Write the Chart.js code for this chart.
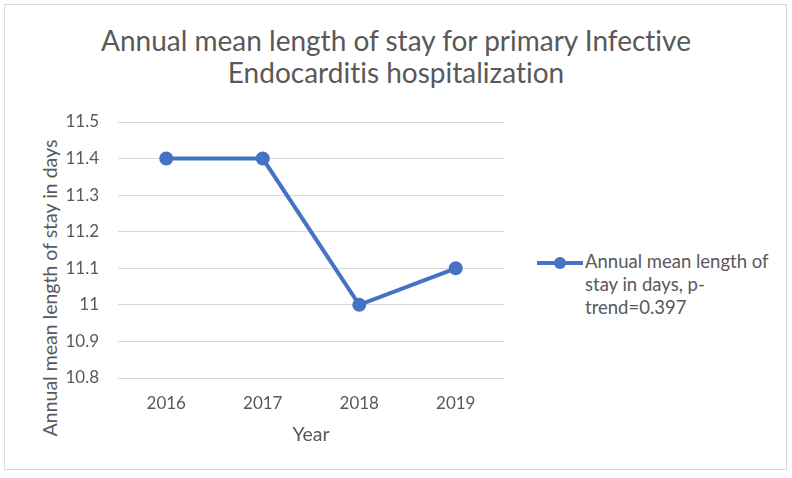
<!DOCTYPE html>
<html><head><meta charset="utf-8">
<script src="https://cdn.jsdelivr.net/npm/chart.js@4"></script>
<style>
html,body{margin:0;padding:0;background:#fff;}
#wrap{position:relative;width:792px;height:478px;overflow:hidden;font-family:Lato,"Open Sans",sans-serif;color:#595959;font-variant-ligatures:none;}
#frame{position:absolute;left:4px;top:4px;width:781px;height:464px;border:1px solid #d9d9d9;box-sizing:content-box;}
#title{position:absolute;left:0;width:792px;top:24px;text-align:center;font-size:28px;line-height:32px;color:#595959;}
#ytitle{position:absolute;left:49px;top:288px;transform:translate(-50%,-50%) rotate(-90deg);white-space:nowrap;font-size:19.5px;color:#595959;}
#legend{position:absolute;left:537px;top:250px;}
#legend .sw{position:absolute;left:0;top:11px;width:46px;height:4px;background:#4472c4;}
#legend .dot{position:absolute;left:17px;top:7px;width:12px;height:12px;border-radius:50%;background:#4472c4;}
#legend .txt{position:absolute;left:48px;top:0;width:210px;font-size:18.5px;line-height:23px;color:#595959;}
canvas{position:absolute;left:0;top:0;}
</style></head>
<body><div id="wrap">
<div id="frame"></div>
<div id="title">Annual mean length of stay for primary Infective<br>Endocarditis hospitalization</div>
<div id="ytitle">Annual mean length of stay in days</div>
<div id="legend"><div class="sw"></div><div class="dot"></div><div class="txt">Annual mean length of stay in days, p-trend=0.397</div></div>
<canvas id="c" width="792" height="478"></canvas>
</div>
<script>
const years = ["2016","2017","2018","2019"];
const meanStay = [11.4, 11.4, 11.0, 11.1];
const seriesName = "Annual mean length of stay in days, p-trend=0.397";
const yMin = 10.8, yMax = 11.5, yStep = 0.1;

new Chart(document.getElementById('c'), {
  type: 'line',
  data: { labels: years, datasets: [{
    label: seriesName, data: meanStay,
    borderColor: '#4472c4', backgroundColor: '#4472c4',
    borderWidth: 4, pointRadius: 5, pointHoverRadius: 5, tension: 0
  }]},
  options: {
    responsive: false, animation: false, devicePixelRatio: 1,
    layout: { padding: { left: 0, top: 122, right: 288, bottom: 30 } },
    plugins: { legend: { display: false }, title: { display: false }, tooltip: { enabled: false } },
    scales: {
      x: {
        offset: true,
        grid: { display: false, drawTicks: false },
        border: { display: false },
        ticks: { color: '#595959', font: { family: 'Lato', size: 17 }, padding: 15 },
        title: { display: true, text: 'Year', color: '#595959', font: { family: 'Lato', size: 19.5 }, padding: 2 },
        afterFit(s) { s.height = 70; }
      },
      y: {
        min: yMin, max: yMax,
        grid: { color: '#d9d9d9', lineWidth: 1, drawTicks: false },
        border: { display: false },
        ticks: { stepSize: yStep, color: '#595959', font: { family: 'Lato', size: 17 }, padding: 19,
          callback: v => Math.round(v*10)/10 },
        afterFit(s) { s.width = 118; }
      }
    }
  }
});
</script>
</body></html>
